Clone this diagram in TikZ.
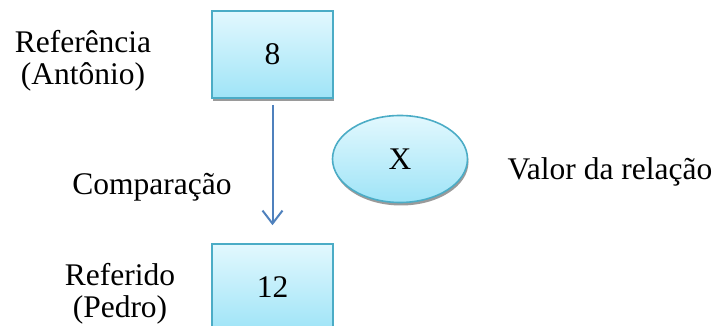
\documentclass[tikz,border=0pt]{standalone}
\usepackage{fontspec}
\setmainfont{Liberation Serif}
\usepackage{xcolor}
\definecolor{BoxTop}{HTML}{E2F8FE}
\definecolor{BoxBottom}{HTML}{9FE4F7}
\definecolor{BoxBorder}{HTML}{4BACC6}
\definecolor{ArrowBlue}{HTML}{4F81BD}
\definecolor{Shadow}{HTML}{9A9A9A}
\usetikzlibrary{shapes.geometric, shadows, arrows.meta}
\tikzset{
  every picture/.style={font={\fontsize{31.5}{32}\selectfont}},
  valuebox/.style={draw=BoxBorder, line width=1.6pt, top color=BoxTop,
    bottom color=BoxBottom, minimum width=121pt, minimum height=87pt,
    drop shadow={shadow xshift=1pt, shadow yshift=-3pt, fill=Shadow, opacity=1}},
  relation/.style={valuebox, ellipse, minimum width=135pt, minimum height=87pt},
  compare/.style={ArrowBlue, line width=2pt,
    -{Straight Barb[length=13pt, width=20pt, line width=2pt]}}}

\begin{document}
\begin{tikzpicture}[x=1pt, y=-1pt]
    \useasboundingbox (0,0) rectangle (718,326);

    % the two values being compared
    \node[valuebox] (ref) at (272.5, 54.5) {8};
    \node[valuebox] (refd) at (272.5, 287.5) {12};
    \node[relation] (rel) at (400, 159) {X};

    \node[align=center] (refname) at (83, 61) {Referência\\(Antônio)};
    \node[align=center] (refdname) at (120, 294) {Referido\\(Pedro)};
    \node[anchor=base] (cmp) at (152, 195) {Comparação};
    \node[anchor=base] (val) at (610, 179) {Valor da relação};

    \draw[compare, shorten <=6pt, shorten >=18pt] (ref) -- (refd);
  \end{tikzpicture}
\end{document}
